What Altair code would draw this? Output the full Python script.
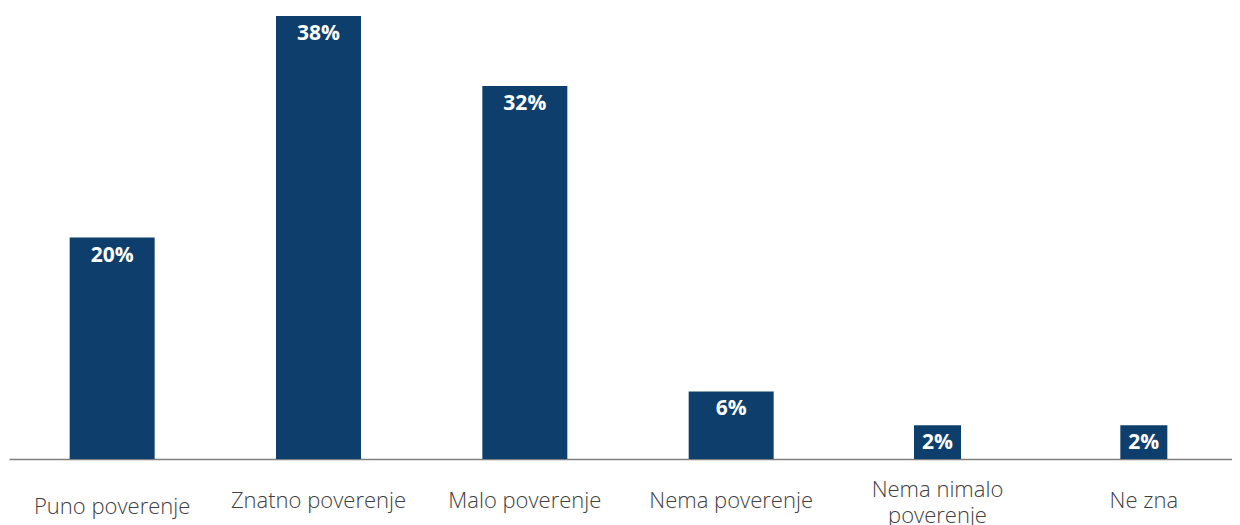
import altair as alt
import pandas as pd

categories = ["Puno poverenje", "Znatno poverenje", "Malo poverenje",
              "Nema poverenje", "Nema nimalo poverenje", "Ne zna"]
values = [19.0, 38.0, 32.0, 5.8, 2.9, 2.9]
labels = ["20%", "38%", "32%", "6%", "2%", "2%"]

df = pd.DataFrame({"cat": categories, "val": values, "lab": labels})

H = 443
xscale = alt.Scale(paddingInner=0, paddingOuter=0, range=[0, 1238])
x = alt.X("cat:N", sort=categories, title=None, scale=xscale,
          axis=alt.Axis(labels=False, ticks=False, domainColor="#7f7f7f",
                        domainWidth=1.5))
xt = alt.X("cat:N", sort=categories, scale=xscale)
y = alt.Y("val:Q", title=None, axis=None, scale=alt.Scale(domain=[0, 38], nice=False))

bars = alt.Chart(df).mark_bar(color="#0E3E6B").encode(
    x=x, y=y,
    size=alt.condition("datum.val < 4", alt.value(47), alt.value(85)),
)
text = alt.Chart(df).mark_text(color="white", font="Open Sans", fontWeight="bold",
                               fontSize=21, baseline="middle", dy=18).encode(
    x=xt, y=y, text="lab:N"
)

lab_style = dict(font="Open Sans", fontWeight=300, fontSize=22, color="#404040",
                 baseline="middle", align="center", lineHeight=26)
cat_single = alt.Chart(df).transform_filter(
    "datum.cat != 'Nema nimalo poverenje' && datum.cat != 'Puno poverenje'"
).mark_text(**lab_style).encode(x=xt, y=alt.value(H + 42), text="cat:N")
cat_first = alt.Chart(df).transform_filter(
    "datum.cat == 'Puno poverenje'"
).mark_text(**lab_style).encode(x=xt, y=alt.value(H + 48), text="cat:N")
cat_multi = alt.Chart(df).transform_filter(
    "datum.cat == 'Nema nimalo poverenje'"
).transform_calculate(
    txt="['Nema nimalo', 'poverenje']"
).mark_text(**lab_style).encode(x=xt, y=alt.value(H + 31), text="txt:N")

chart = (bars + text + cat_single + cat_first + cat_multi).properties(
    width=1223, height=H,
    autosize=alt.AutoSizeParams(type="none"),
    padding={"top": 8, "left": 1, "right": 0, "bottom": 66},
).configure_view(stroke=None)

chart.save("out.html", embed_options={"renderer": "svg", "actions": False})
